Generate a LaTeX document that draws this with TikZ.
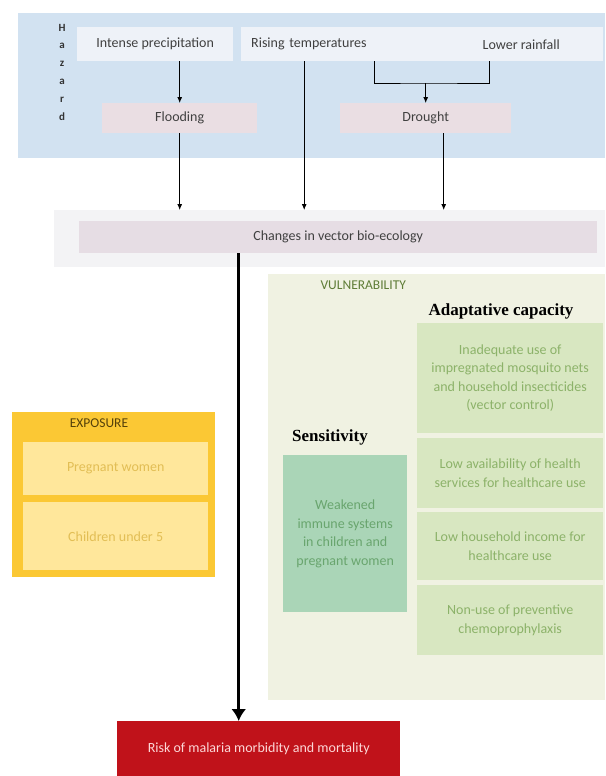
\documentclass[tikz,border=0pt]{standalone}
\usepackage{fontspec}
\setmainfont{Carlito}
\newfontfamily\headfont{Liberation Serif}
\usetikzlibrary{positioning,arrows.meta}
\definecolor{hazardblue}{RGB}{210,226,241}
\definecolor{causefill}{RGB}{238,242,248}
\definecolor{effectfill}{RGB}{234,222,227}
\definecolor{ecopanel}{RGB}{243,243,245}
\definecolor{ecofill}{RGB}{230,221,228}
\definecolor{vulnpanel}{RGB}{240,242,226}
\definecolor{vulntext}{RGB}{95,125,55}
\definecolor{adaptfill}{RGB}{216,231,193}
\definecolor{adapttext}{RGB}{140,178,105}
\definecolor{sensfill}{RGB}{170,213,183}
\definecolor{senstext}{RGB}{105,165,110}
\definecolor{expopanel}{RGB}{251,200,52}
\definecolor{expofill}{RGB}{255,231,155}
\definecolor{expotext}{RGB}{226,190,85}
\definecolor{expolabel}{RGB}{85,65,10}
\definecolor{riskfill}{RGB}{192,18,26}
\definecolor{risktext}{RGB}{252,215,215}

\begin{document}
\begin{tikzpicture}[x=1pt,y=-1pt,
    every node/.style={font=\fontsize{14}{18.5}\selectfont},
    boxes/.style={anchor=north west,inner sep=0pt,align=center,fill=#1},
    labels/.style={font=\fontsize{13.5}{15}\selectfont},
    heads/.style={font=\headfont\fontsize{17}{19}\selectfont\bfseries},
    thin/.style={line width=0.8pt,-{Latex[length=6pt,width=5pt]}},
    bigarrow/.style={line width=3.5pt,-{Latex[length=12pt,width=15pt]}},
  ]
\useasboundingbox (0,0) rectangle (605,776);

\node (hazard panel) [boxes=hazardblue,minimum width=587pt,minimum height=145pt] at (18,13) {};
\node (hazard label) [align=center,font=\fontsize{11}{17.8}\selectfont\bfseries,text=black!80] at (62,72) {H\\a\\z\\a\\r\\d};

\node (precip) [boxes=causefill,minimum width=156pt,minimum height=34pt,text=black!75] at (77,27) {Intense precipitation};
\node (rising) [boxes=causefill,minimum height=34pt,text width=180pt,inner xsep=10pt,align=left,text=black!75] at (241,27) {Rising temperatures};
\node (lower) [boxes=causefill,minimum width=164pt,minimum height=34pt,text=black!75] at (439,27) {Lower rainfall};

\node (flooding) [boxes=effectfill,minimum width=155pt,minimum height=30pt,text=black!75] at (102,103) {Flooding};
\node (drought) [boxes=effectfill,minimum width=171pt,minimum height=30pt,text=black!75] at (340,103) {Drought};

\node (eco panel) [boxes=ecopanel,minimum width=551pt,minimum height=57pt] at (54,210) {};
\node (changes) [boxes=ecofill,minimum width=518pt,minimum height=32pt,text=black!75] at (79,221) {Changes in vector bio-ecology};

\draw[thin] (precip.south -| flooding.north) -- (flooding.north);
\coordinate (join) at ([yshift=20pt]drought.north);
\draw[line width=0.8pt] ([xshift=33pt]rising.south) |- (join) -| ([xshift=-32pt]lower.south);
\draw[thin] (join) -- (drought.north);
\draw[thin] (flooding.south) -- (flooding.south |- eco panel.north);
\draw[thin] ([xshift=-37pt]rising.south) -- ([xshift=-37pt]rising.south |- eco panel.north);
\draw[thin] ([xshift=18pt]drought.south) -- ([xshift=18pt]drought.south |- eco panel.north);

\node (vuln panel) [boxes=vulnpanel,minimum width=337pt,minimum height=426pt] at (268,274) {};
\node (vuln label) [labels,anchor=west,text=vulntext] at (317,285) {VULNERABILITY};
\node (adapt label) [heads] at (501,311) {Adaptative capacity};
\node (nets) [boxes=adaptfill,minimum width=186pt,minimum height=110pt,text=adapttext] at (417,323) {Inadequate use of\\impregnated mosquito nets\\and household insecticides\\(vector control)};
\node (services) [boxes=adaptfill,minimum width=186pt,minimum height=70pt,text=adapttext] at (417,438) {Low availability of health\\services for healthcare use};
\node (income) [boxes=adaptfill,minimum width=186pt,minimum height=68pt,text=adapttext] at (417,512) {Low household income for\\healthcare use};
\node (chemo) [boxes=adaptfill,minimum width=186pt,minimum height=70pt,text=adapttext] at (417,585) {Non-use of preventive\\chemoprophylaxis};

\node (sens label) [heads] at (330,437) {Sensitivity};
\node (immune) [boxes=sensfill,minimum width=124pt,minimum height=157pt,text=senstext] at (283,455) {Weakened\\immune systems\\in children and\\pregnant women};

\node (expo panel) [boxes=expopanel,minimum width=203pt,minimum height=165pt] at (12,412) {};
\node (expo label) [labels,text=expolabel] at (99,423) {EXPOSURE};
\node (pregnant) [boxes=expofill,minimum width=185pt,minimum height=53pt,text=expotext] at (23,442) {Pregnant women};
\node (children) [boxes=expofill,minimum width=185pt,minimum height=68pt,text=expotext] at (23,502) {Children under 5};

\node (risk) [boxes=riskfill,minimum width=283pt,minimum height=55pt,text=risktext] at (117,721) {Risk of malaria morbidity and mortality};

\draw[bigarrow] ([xshift=-20pt]risk.north |- changes.south) -- ([xshift=-20pt]risk.north);
\end{tikzpicture}
\end{document}
